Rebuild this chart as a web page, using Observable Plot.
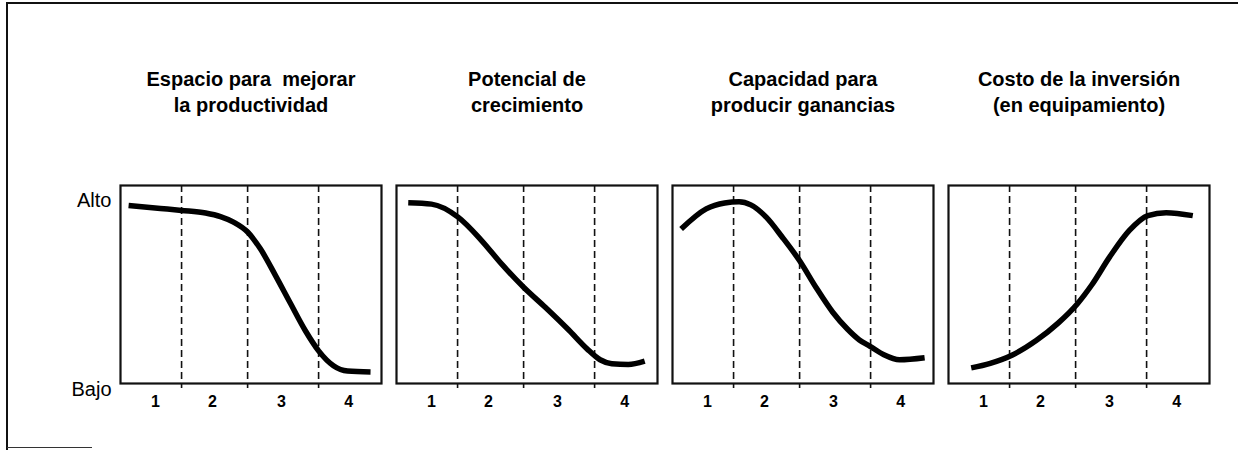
<!DOCTYPE html>
<html>
<head>
<meta charset="utf-8">
<script src="https://cdn.jsdelivr.net/npm/d3@7"></script>
<script src="https://cdn.jsdelivr.net/npm/@observablehq/plot@0.6"></script>
<style>
  html, body { margin: 0; padding: 0; background: #fff; }
  #wrap { position: relative; width: 1238px; height: 450px; overflow: hidden; }
  #border { position: absolute; left: 6px; top: 2px; width: 1240px; height: 460px;
            border-left: 2px solid #111; border-top: 2px solid #111; box-sizing: border-box; }
  #foot { position: absolute; left: 7px; top: 447px; width: 85px; height: 0; border-top: 1.5px solid #333; }
  #chart { position: absolute; left: 0; top: 0; }
  #chart text.title { letter-spacing: -0.6px; }
  #chart g[aria-label="x-axis tick label"] { font-size: 16px; font-weight: bold; fill: #000; }
  #chart g[aria-label="y-axis tick label"] { font-size: 20px; fill: #000; }
</style>
</head>
<body>
<div id="wrap">
  <div id="border"></div>
  <div id="foot"></div>
  <div id="chart"></div>
</div>
<script>
// Panel titles (facets)
const panels = [
  "Espacio para  mejorar\nla productividad",
  "Potencial de\ncrecimiento",
  "Capacidad para\nproducir ganancias",
  "Costo de la inversión\n(en equipamiento)"
];

// Life-cycle position (0–100) and level (0 = Bajo, 100 = Alto)
const curveProductividad = [
  [3.1, 89.9], [15.3, 88.4], [23.4, 87.4], [32.6, 86.1], [38.3, 84.3], [43.3, 81.5],
  [48.7, 76.5], [53.6, 68], [59.4, 54.5], [65.1, 40.5], [70.9, 26.5], [75.9, 16.5],
  [81.6, 9], [87, 6.3], [95.8, 5.8]
];
const curveCrecimiento = [
  [4.5, 91.3], [13.4, 90.6], [23.6, 84], [32.6, 72.2], [40.5, 60], [48.8, 48.5],
  [57, 38.5], [66, 27], [73, 17.5], [78, 12], [82.5, 10], [88.8, 9.6], [95.1, 11.3]
];
const curveGanancias = [
  [3.3, 78], [12.9, 88.2], [20, 91.2], [25.5, 91.8], [30, 90.2], [35.9, 84], [42, 74], [48.7, 62],
  [55, 48.5], [61.4, 36], [67, 27.5], [71.6, 22], [75.7, 18.8], [81, 14.5], [87, 12], [96.6, 13]
];
const curveInversion = [
  [8.7, 7.9], [16, 10.2], [24.3, 14.3], [33.6, 21.7], [42, 30.5], [49.4, 40.3], [55, 50],
  [61.7, 63.8], [69.3, 77.3], [76.4, 84.8], [83.4, 86.3], [93.6, 84.8]
];

// Stage boundaries and stage labels
const phaseBoundaries = [23.4, 48.7, 75.9];
const phaseTicks = [13.4, 35.2, 61.7, 87.4];
const phaseLabels = ["1", "2", "3", "4"];

// Level labels
const levelValues = [92.4, -3];
const levelLabels = ["Alto", "Bajo"];

const curves = [curveProductividad, curveCrecimiento, curveGanancias, curveInversion];
const lineData = curves.flatMap((c, i) => c.map(([x, y]) => ({panel: panels[i], x, y})));
const titleData = panels.map(p => ({panel: p}));

const FONT = "'Liberation Sans Narrow', 'Arial Narrow', 'Liberation Sans', Arial, sans-serif";

const chart = Plot.plot({
  width: 1238,
  height: 450,
  marginTop: 185,
  marginBottom: 67,
  marginLeft: 120,
  marginRight: 29,
  style: {fontFamily: FONT, color: "#111", background: "transparent"},
  fx: {domain: panels, paddingInner: 0.055, paddingOuter: 0, axis: null, label: null},
  x: {domain: [0, 100], label: null},
  y: {domain: [0, 100], label: null},
  marks: [
    Plot.ruleX(phaseBoundaries, {stroke: "#111", strokeWidth: 1.6, strokeDasharray: "7,4", insetBottom: -5}),
    Plot.frame({stroke: "#111", strokeWidth: 2.2}),
    Plot.line(lineData, {fx: "panel", x: "x", y: "y", curve: "monotone-x",
      stroke: "#000", strokeWidth: 5.5, strokeLinecap: "butt", strokeLinejoin: "round"}),
    Plot.text(titleData, {fx: "panel", text: "panel", frameAnchor: "top", lineAnchor: "top",
      dy: -118, fontSize: 20, fontWeight: "bold", lineHeight: 1.3, fill: "#000", className: "title"}),
    Plot.axisX(phaseTicks, {tickSize: 0, tickPadding: 12, fontSize: 16, fontWeight: "bold", label: null,
      tickFormat: (d, i) => phaseLabels[i]}),
    Plot.axisY(levelValues, {tickSize: 0, tickPadding: 9, fontSize: 20, label: null,
      tickFormat: (d, i) => levelLabels[i]})
  ]
});
document.getElementById("chart").appendChild(chart);
</script>
</body>
</html>
